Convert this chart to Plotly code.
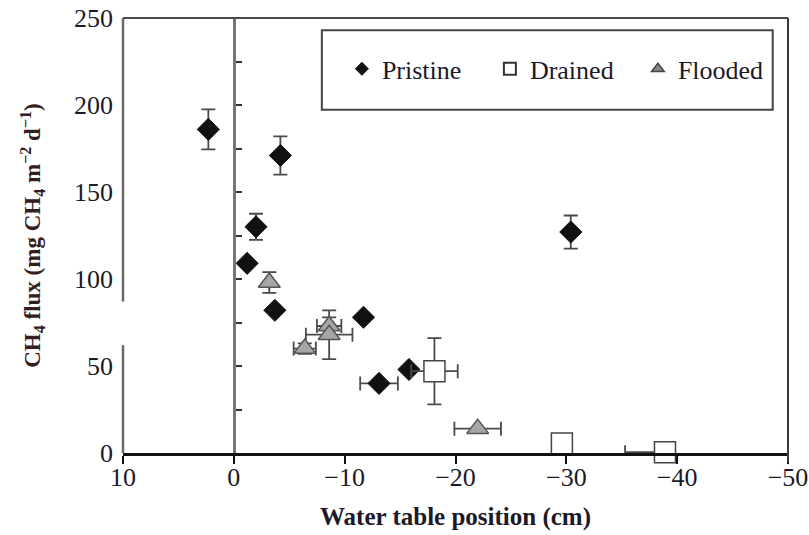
import plotly.graph_objects as go

# ---- data ----
pristine_x = [2.3, -4.2, -2.0, -1.2, -3.7, -11.7, -13.1, -15.8, -30.4]
pristine_y = [186, 171, 130, 109, 82, 78, 40, 48, 127]
pristine_ey = [11.5, 11, 7.5, 0, 0, 0, 0, 0, 9.5]
pristine_ex = [0, 0, 0, 0, 0, 0, 1.7, 0, 0]

drained_x = [-18.1, -29.6, -38.9]
drained_y = [47, 5.5, 0.5]
drained_ey = [19, 0, 0]
drained_ex_plus = [2.1, 0, 3.6]
drained_ex_minus = [2.1, 0, 0]

flooded_x = [-3.2, -6.4, -8.6, -8.6, -22.0]
flooded_y = [98, 60, 73, 68, 14]
flooded_ey = [6, 3, 5, 14, 0]
flooded_ex = [0, 1.0, 1.1, 2.1, 2.1]

x_ticks = [10, 0, -10, -20, -30, -40, -50]
x_ticktext = ["10", "0", "\u221210", "\u221220", "\u221230", "\u221240", "\u221250"]
y_ticks = [0, 50, 100, 150, 200, 250]

SERIF = "Liberation Serif, Times New Roman, serif"
EB_COLOR = "#4a4a4a"
TXT = "#1c1a28"

def eb(arr, minus=None):
    d = dict(type="data", array=arr, color=EB_COLOR, thickness=1.8, width=7)
    if minus is not None:
        d.update(arrayminus=minus, symmetric=False)
    return d

fig = go.Figure()

fig.add_trace(go.Scatter(
    x=pristine_x, y=pristine_y, mode="markers", name="Pristine", showlegend=False,
    marker=dict(symbol="diamond", size=17, color="#111111",
                line=dict(color="#111111", width=1)),
    error_y=eb(pristine_ey), error_x=eb(pristine_ex), cliponaxis=False,
))
fig.add_trace(go.Scatter(
    x=drained_x, y=drained_y, mode="markers", name="Drained", showlegend=False,
    marker=dict(symbol="square", size=21, color="white",
                line=dict(color="#444444", width=1.5)),
    error_y=eb(drained_ey), error_x=eb(drained_ex_plus, drained_ex_minus), cliponaxis=False,
))
fig.add_trace(go.Scatter(
    x=flooded_x, y=flooded_y, mode="markers", name="Flooded", showlegend=False,
    marker=dict(symbol="triangle-up", size=19, color="#a6a6a6",
                line=dict(color="#555555", width=1.5)),
    error_y=eb(flooded_ey), error_x=eb(flooded_ex), cliponaxis=False,
))

# legend-only entries (smaller symbols, as in the reference legend)
legend_names = ["Pristine", "Drained", "Flooded"]
legend_markers = [
    dict(symbol="diamond", size=10, color="#111111", line=dict(color="#111111", width=1)),
    dict(symbol="square", size=12, color="white", line=dict(color="#333333", width=2)),
    dict(symbol="triangle-up", size=11, color="#8a8a8a", line=dict(color="#444444", width=1.5)),
]
for nm, mk in zip(legend_names, legend_markers):
    fig.add_trace(go.Scatter(x=[None], y=[None], mode="markers", name=nm, marker=mk,
                             hoverinfo="skip"))

shapes = [
    # left axis (broken in the reference)
    dict(type="line", xref="paper", yref="y", x0=0, x1=0, y0=0, y1=62,
         line=dict(color="#6a6a6a", width=2.5)),
    dict(type="line", xref="paper", yref="y", x0=0, x1=0, y0=87, y1=250,
         line=dict(color="#6a6a6a", width=2.5)),
    # top and right frame
    dict(type="line", xref="paper", yref="paper", x0=0, x1=1, y0=1, y1=1,
         line=dict(color="#4a4a4a", width=2)),
    dict(type="line", xref="paper", yref="paper", x0=1, x1=1, y0=1, y1=-0.021,
         line=dict(color="#3a3a3a", width=2)),
    # legend box
    dict(type="rect", xref="paper", yref="paper", x0=0.299, x1=0.977, y0=0.789, y1=0.972,
         line=dict(color="#444444", width=2), fillcolor="rgba(0,0,0,0)"),
]

fig.update_layout(
    width=809, height=535,
    margin=dict(l=123, r=21, t=18, b=82),
    paper_bgcolor="white", plot_bgcolor="white",
    font=dict(family=SERIF, color=TXT),
    showlegend=True,
    legend=dict(orientation="h", x=0.663, y=0.883, xanchor="center", yanchor="middle",
                font=dict(family=SERIF, size=26, color=TXT),
                bgcolor="rgba(0,0,0,0)", borderwidth=0, entrywidth=103),
    xaxis=dict(range=[10, -50], tickvals=x_ticks, ticktext=x_ticktext, automargin=False,
               showgrid=False, zeroline=False, showline=True, linecolor="#111111",
               linewidth=3, ticks="outside", ticklen=8, tickwidth=2, tickcolor="#111111",
               ticklabelstandoff=-9,
               tickfont=dict(family=SERIF, size=26, color=TXT),
               title=dict(text="<b>Water table position (cm)</b>",
                          font=dict(family=SERIF, size=25, color=TXT), standoff=17)),
    yaxis=dict(range=[0, 250], tickvals=y_ticks, showgrid=False, zeroline=False,
               showline=False, ticks="", ticklabelstandoff=9, automargin=False,
               tickfont=dict(family=SERIF, size=26, color=TXT),
               title=dict(text="<b>CH<sub>4</sub> flux (mg CH<sub>4</sub> m<sup>\u22122</sup> d<sup>\u22121</sup>)</b>",
                          font=dict(family=SERIF, size=23, color="#33201e"), standoff=26)),
    yaxis2=dict(overlaying="y", anchor="free", position=10 / 60, side="left",
                range=[0, 250], dtick=25, showticklabels=False, showgrid=False,
                zeroline=False, showline=True, linecolor="#777777", linewidth=2.5,
                ticks="inside", ticklen=6, tickwidth=2, tickcolor="#333333"),
    shapes=shapes,
)

fig.add_trace(go.Scatter(x=[None], y=[None], yaxis="y2", showlegend=False, hoverinfo="skip"))

fig.write_html("out.html")
